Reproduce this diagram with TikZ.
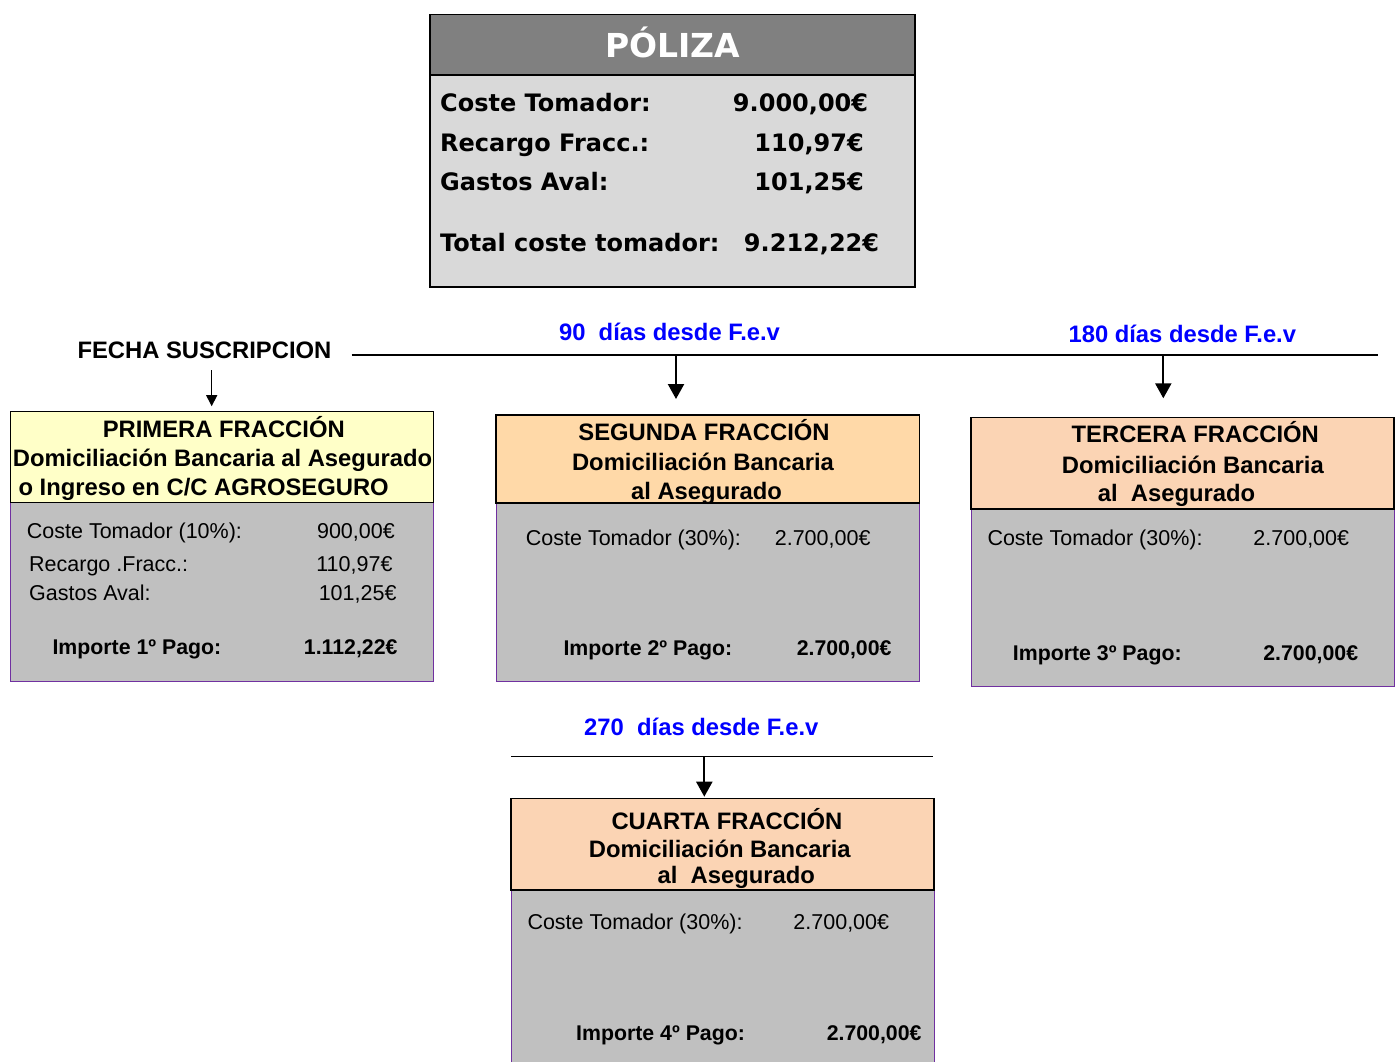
\documentclass[tikz,border=0pt]{standalone}
\usepackage{fontspec}
\setmainfont{Liberation Sans}
\newfontfamily\verdfont{DejaVu Sans}
\usetikzlibrary{arrows.meta,positioning}
\definecolor{polhead}{RGB}{128,128,128}
\definecolor{polbody}{RGB}{217,217,217}
\definecolor{yelhead}{RGB}{255,255,200}
\definecolor{peachA}{RGB}{255,217,168}
\definecolor{peachB}{RGB}{251,212,180}
\definecolor{bodygray}{RGB}{192,192,192}
\definecolor{edgepurple}{RGB}{112,48,160}
\tikzset{
  box/.style={rectangle, anchor=north west, inner sep=0pt, outer sep=0pt},
  hdrbox/.style={box, draw=black, line width=1.3pt},
  bodybox/.style={box, draw=edgepurple, fill=bodygray, line width=0.9pt},
  txt/.style={inner sep=0pt, font=\fontsize{21.5}{25}\selectfont},
  txtb/.style={inner sep=0pt, font=\fontsize{21.3}{25}\selectfont\bfseries},
  hd/.style={inner sep=0pt, anchor=base, font=\fontsize{23.8}{28}\selectfont\bfseries},
  days/.style={hd, text=blue},
  poltxt/.style={inner sep=0pt, font=\verdfont\bfseries\fontsize{24}{28}\selectfont},
  thinarr/.style={-{Triangle[width=11pt,length=11pt]}, line width=1.3pt},
  bigarr/.style={-{Triangle[width=16pt,length=15pt]}, line width=2.2pt}
}
\begin{document}
\begin{tikzpicture}[x=1pt, y=-1pt]
   \useasboundingbox (0,0) rectangle (1398,1061);
   \fill[white] (0,0) rectangle (1398,1061);

   % poliza
   \node[box, draw=black, line width=1.6pt, fill=polbody, minimum width=485pt, minimum height=272.5pt] (pol) at (430,14.3) {};
   \node[box, draw=black, line width=1.6pt, fill=polhead, minimum width=485pt, minimum height=60.7pt] (polh) at (430,14.3) {};
   \node[anchor=base, inner sep=0pt, text=white, font=\verdfont\bfseries\fontsize{33}{36}\selectfont] (poltit) at (672.5,57.3) {PÓLIZA};
   \node[poltxt, anchor=base west] (pl1) at (440,111) {Coste Tomador:};
   \node[poltxt, anchor=base east] (pv1) at (868.3,111) {9.000,00€};
   \node[poltxt, anchor=base west] (pl2) at (440,151) {Recargo Fracc.:};
   \node[poltxt, anchor=base east] (pv2) at (864,151) {110,97€};
   \node[poltxt, anchor=base west] (pl3) at (440,190) {Gastos Aval:};
   \node[poltxt, anchor=base east] (pv3) at (864,190) {101,25€};
   \node[poltxt, anchor=base west] (pl4) at (440,251) {Total coste tomador:};
   \node[poltxt, anchor=base east] (pv4) at (879.3,251) {9.212,22€};

   % linea de fechas
   \node[hd, anchor=base west] (fecha) at (77.3,358.3) {FECHA SUSCRIPCION};
   \node[days] (d90) at (669.5,340.7) {90\ \ días desde F.e.v};
   \node[days] (d180) at (1182.3,342.3) {180 días desde F.e.v};
   \node[days] (d270) at (701.3,735) {270\ \ días desde F.e.v};
   \coordinate (tl0) at (351.7,355);
   \coordinate (tl1) at (1377.7,355);
   \coordinate (tl2) at (511,756.7);
   \coordinate (tl3) at (933.3,756.7);
   \draw[line width=1.5pt] (tl0) -- (tl1);
   \draw[line width=1.5pt] (tl2) -- (tl3);

   % primera
   \node[bodybox, minimum width=422.6pt, minimum height=179pt] (b1) at (10.7,502.7) {};
   \node[hdrbox, fill=yelhead, minimum width=422.6pt, minimum height=91pt] (h1) at (10.7,411.7) {};
   \node[hd] (h1a) at (223.8,437) {PRIMERA FRACCIÓN};
   \node[hd] (h1b) at (222.5,466.7) {Domiciliación Bancaria al Asegurado};
   \node[hd, anchor=base west] (h1c) at (18.3,495) {o Ingreso en C/C AGROSEGURO};
   \node[txt, anchor=base west] (c1) at (26.7,538.3) {Coste Tomador (10\%):};
   \node[txt, anchor=base east] (v1) at (395,538.3) {900,00€};
   \node[txt, anchor=base west] (r1) at (29,571.7) {Recargo .Fracc.:};
   \node[txt, anchor=base east] (rv1) at (392.7,571.7) {110,97€};
   \node[txt, anchor=base west] (g1) at (29,600) {Gastos Aval:};
   \node[txt, anchor=base east] (gv1) at (396.7,600) {101,25€};
   \node[txtb, anchor=base west] (i1) at (52.3,654.3) {Importe 1º Pago:};
   \node[txtb, anchor=base east] (iv1) at (397.7,654.3) {1.112,22€};

   % segunda
   \node[bodybox, minimum width=423.3pt, minimum height=178.7pt] (b2) at (496,503) {};
   \node[hdrbox, fill=peachA, minimum width=423.3pt, minimum height=88pt] (h2) at (496,415) {};
   \node[hd] (h2a) at (704,440.7) {SEGUNDA FRACCIÓN};
   \node[hd] (h2b) at (703,470) {Domiciliación Bancaria};
   \node[hd] (h2c) at (706.5,499) {al Asegurado};
   \node[txt, anchor=base west] (c2) at (525.7,545) {Coste Tomador (30\%):};
   \node[txt, anchor=base east] (v2) at (870.7,545) {2.700,00€};
   \node[txtb, anchor=base west] (i2) at (563.3,655) {Importe 2º Pago:};
   \node[txtb, anchor=base east] (iv2) at (891.7,655) {2.700,00€};

   % tercera
   \node[bodybox, minimum width=423pt, minimum height=177.7pt] (b3) at (971,509) {};
   \node[hdrbox, fill=peachB, minimum width=423pt, minimum height=91.7pt] (h3) at (971,417.3) {};
   \node[hd] (h3a) at (1195.3,442.7) {TERCERA FRACCIÓN};
   \node[hd] (h3b) at (1192.8,473.3) {Domiciliación Bancaria};
   \node[hd] (h3c) at (1176.5,501) {al\ \ Asegurado};
   \node[txt, anchor=base west] (c3) at (987.3,545) {Coste Tomador (30\%):};
   \node[txt, anchor=base east] (v3) at (1349.3,545) {2.700,00€};
   \node[txtb, anchor=base west] (i3) at (1012.7,660) {Importe 3º Pago:};
   \node[txtb, anchor=base east] (iv3) at (1358.3,660) {2.700,00€};

   % cuarta
   \node[bodybox, minimum width=423pt, minimum height=185pt] (b4) at (511,890) {};
   \node[hdrbox, fill=peachB, minimum width=423pt, minimum height=91.3pt] (h4) at (511,798.7) {};
   \node[hd] (h4a) at (727,829.3) {CUARTA FRACCIÓN};
   \node[hd] (h4b) at (719.8,857.7) {Domiciliación Bancaria};
   \node[hd] (h4c) at (736.3,883.3) {al\ \ Asegurado};
   \node[txt, anchor=base west] (c4) at (527.3,929.3) {Coste Tomador (30\%):};
   \node[txt, anchor=base east] (v4) at (889.3,929.3) {2.700,00€};
   \node[txtb, anchor=base west] (i4) at (576,1040) {Importe 4º Pago:};
   \node[txtb, anchor=base east] (iv4) at (921.7,1040) {2.700,00€};

   % flechas
   \coordinate (a1) at (211.7,370);
   \coordinate (a2) at (676,355);
   \coordinate (a3) at (1163.3,355);
   \coordinate (a4) at (704.3,756.7);
   \draw[thinarr, shorten >=5.5pt] (a1) -- (a1 |- h1.north);
   \draw[bigarr, shorten >=16pt] (a2) -- (a2 |- h2.north);
   \draw[bigarr, shorten >=19pt] (a3) -- (a3 |- h3.north);
   \draw[bigarr, shorten >=2pt] (a4) -- (a4 |- h4.north);
\end{tikzpicture}
\end{document}
